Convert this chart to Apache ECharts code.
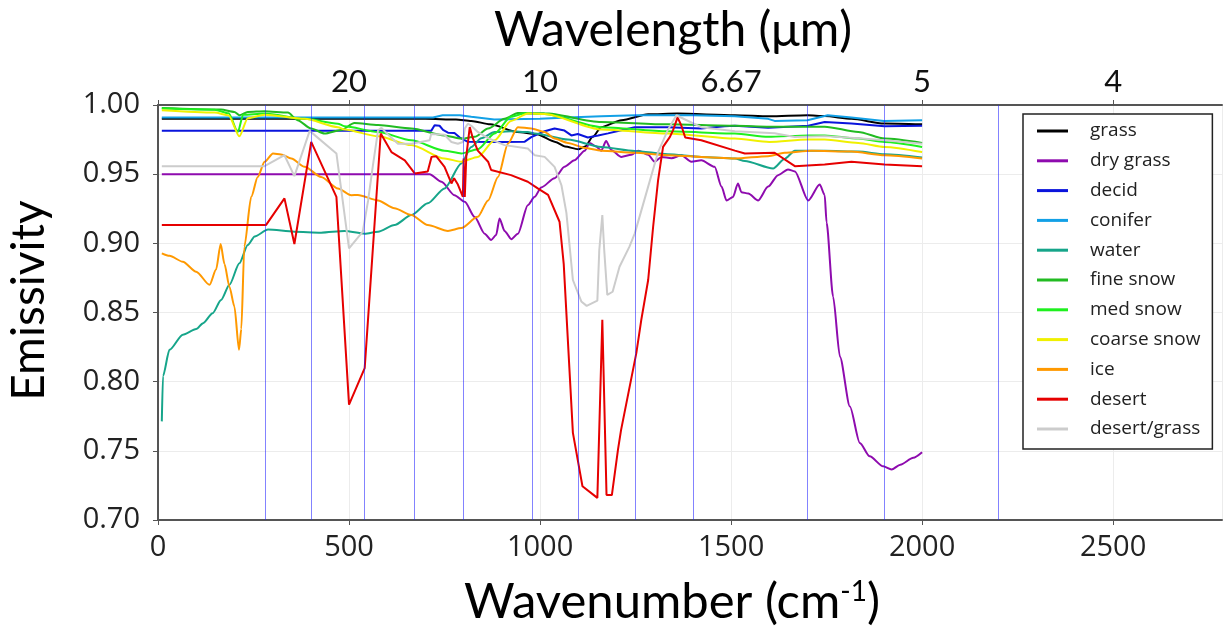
<!DOCTYPE html>
<html>
<head>
<meta charset="utf-8">
<title>Emissivity</title>
<script src="https://cdn.jsdelivr.net/npm/echarts@6/dist/echarts.min.js"></script>
<style>
  html, body { margin: 0; padding: 0; background: #fff; }
  #chart { width: 1224px; height: 627px; }
</style>
</head>
<body>
<div id="chart"></div>
<script>
// wavenumber (cm-1) positions of the vertical band lines
const bandLines = [280, 400, 540, 670, 800, 980, 1100, 1250, 1400, 1700, 1900, 2200];

// top axis: wavelength labels placed at wavenumber ticks
const topTickWn = [500, 1000, 1500, 2000, 2500];
const topTickLabels = ['20', '10', '6.67', '5', '4'];

// emissivity curves, [wavenumber, emissivity]
const grass = [[10,0.990],[700,0.990],[780,0.9895],[820,0.9885],[870,0.986],[940,0.9805],[990,0.979],[1040,0.9733],[1065,0.970],[1100,0.968],[1118,0.970],[1138,0.977],[1160,0.984],[1213,0.989],[1283,0.9933],[1360,0.9938],[1510,0.9926],[1600,0.9918],[1700,0.9926],[1745,0.992],[1815,0.990],[1900,0.9866],[2000,0.986]];

const dryGrass = [[10,0.950],[711,0.950],[742,0.9445],[776,0.9348],[803,0.930],[829,0.919],[855,0.907],[872,0.9024],[885,0.906],[894,0.918],[907,0.909],[925,0.903],[942,0.907],[968,0.9276],[986,0.9336],[1003,0.9404],[1038,0.947],[1064,0.9553],[1090,0.960],[1117,0.967],[1130,0.9726],[1147,0.970],[1160,0.967],[1173,0.974],[1186,0.9675],[1213,0.9625],[1239,0.964],[1257,0.967],[1283,0.964],[1300,0.959],[1318,0.9625],[1344,0.9615],[1370,0.9637],[1396,0.959],[1422,0.960],[1457,0.9553],[1475,0.941],[1488,0.931],[1505,0.9335],[1518,0.9433],[1527,0.937],[1545,0.936],[1571,0.931],[1597,0.941],[1623,0.9493],[1649,0.9534],[1667,0.952],[1702,0.931],[1732,0.9425],[1745,0.935],[1750,0.915],[1767,0.8615],[1785,0.818],[1811,0.782],[1837,0.7557],[1863,0.746],[1898,0.7388],[1920,0.7365],[1943,0.740],[1977,0.745],[2000,0.749]];

const decid = [[10,0.9813],[715,0.9813],[724,0.9853],[737,0.985],[746,0.982],[759,0.980],[776,0.9797],[790,0.9765],[810,0.9735],[900,0.9733],[960,0.9735],[977,0.9768],[1012,0.981],[1038,0.983],[1064,0.9815],[1082,0.978],[1099,0.979],[1125,0.9765],[1152,0.978],[1178,0.9795],[1213,0.9817],[1248,0.984],[1334,0.984],[1422,0.983],[1483,0.9847],[1510,0.985],[1597,0.9836],[1702,0.985],[1745,0.9877],[1815,0.9866],[1902,0.9847],[2000,0.985]];

const conifer = [[10,0.991],[720,0.991],[745,0.9926],[790,0.9926],[820,0.9915],[880,0.9895],[1000,0.990],[1073,0.991],[1160,0.9918],[1250,0.9926],[1400,0.9926],[1510,0.9918],[1597,0.990],[1614,0.9885],[1700,0.989],[1753,0.9926],[1815,0.991],[1900,0.9885],[2000,0.989]];

const water = [[10,0.7713],[13,0.804],[30,0.823],[65,0.834],[100,0.838],[118,0.8423],[143,0.8495],[165,0.859],[187,0.870],[213,0.8856],[235,0.8988],[253,0.905],[288,0.910],[357,0.9084],[427,0.9077],[488,0.9089],[541,0.907],[576,0.9084],[619,0.9132],[663,0.9204],[706,0.9289],[750,0.9397],[794,0.9577],[820,0.9697],[846,0.976],[881,0.9805],[924,0.981],[968,0.9805],[986,0.9794],[1073,0.975],[1160,0.9697],[1248,0.9668],[1334,0.9644],[1422,0.9625],[1510,0.9613],[1536,0.9595],[1610,0.9541],[1640,0.961],[1667,0.967],[1745,0.967],[1833,0.9663],[1902,0.9644],[2000,0.962]];

const fineSnow = [[10,0.9978],[165,0.9967],[200,0.995],[213,0.9926],[235,0.995],[279,0.9955],[340,0.9945],[365,0.989],[401,0.983],[436,0.9794],[480,0.982],[514,0.987],[576,0.9855],[663,0.983],[750,0.978],[794,0.9757],[829,0.977],[864,0.983],[907,0.990],[942,0.9942],[1012,0.994],[1160,0.9877],[1334,0.986],[1510,0.985],[1600,0.9843],[1745,0.9843],[1833,0.9805],[1902,0.9757],[2000,0.9726]];

const medSnow = [[10,0.9974],[148,0.9966],[185,0.994],[209,0.9805],[223,0.993],[279,0.9938],[384,0.990],[471,0.9865],[488,0.9846],[576,0.9805],[663,0.9745],[750,0.967],[794,0.965],[837,0.968],[881,0.9794],[924,0.9915],[960,0.994],[1012,0.9935],[1160,0.984],[1334,0.981],[1510,0.9794],[1597,0.977],[1702,0.978],[1745,0.978],[1833,0.9757],[1902,0.9733],[2000,0.9697]];

const coarseSnow = [[10,0.9962],[148,0.9945],[185,0.9925],[213,0.9774],[235,0.9905],[279,0.993],[384,0.990],[471,0.984],[488,0.9823],[576,0.9774],[663,0.971],[750,0.9613],[794,0.959],[837,0.9625],[881,0.9745],[924,0.9885],[968,0.9938],[1012,0.9935],[1160,0.9823],[1334,0.9794],[1510,0.9757],[1600,0.9733],[1700,0.975],[1745,0.975],[1833,0.9726],[1902,0.9697],[2000,0.966]];

const ice = [[10,0.8928],[30,0.891],[65,0.8867],[100,0.8795],[135,0.870],[152,0.881],[164,0.8995],[174,0.885],[187,0.8687],[200,0.8543],[212,0.823],[218,0.838],[226,0.8976],[244,0.9336],[261,0.948],[279,0.9589],[301,0.965],[322,0.9643],[349,0.9613],[384,0.9553],[427,0.948],[471,0.9397],[506,0.9348],[523,0.935],[576,0.931],[619,0.9253],[663,0.9204],[706,0.9132],[759,0.909],[794,0.911],[837,0.9192],[864,0.931],[890,0.948],[916,0.972],[942,0.984],[977,0.983],[1012,0.9805],[1038,0.9757],[1073,0.9726],[1117,0.969],[1160,0.967],[1248,0.9654],[1334,0.9637],[1422,0.9625],[1510,0.9613],[1597,0.963],[1640,0.9654],[1710,0.967],[1815,0.9663],[1902,0.9637],[2000,0.9613]];

const desert = [[10,0.9133],[283,0.9133],[331,0.9325],[357,0.8995],[401,0.9733],[467,0.9336],[500,0.7834],[541,0.8098],[583,0.9794],[611,0.966],[646,0.960],[672,0.9505],[706,0.952],[716,0.9625],[728,0.963],[750,0.9553],[768,0.9433],[775,0.947],[785,0.9425],[798,0.9336],[800,0.9613],[803,0.9336],[807,0.963],[816,0.984],[824,0.976],[837,0.967],[864,0.959],[872,0.953],[924,0.9493],[968,0.9445],[994,0.9397],[1021,0.935],[1051,0.9156],[1062,0.885],[1086,0.763],[1111,0.7244],[1150,0.716],[1163,0.8447],[1174,0.718],[1188,0.718],[1204,0.7509],[1212,0.765],[1252,0.8206],[1265,0.8447],[1283,0.8735],[1296,0.912],[1309,0.9457],[1322,0.9697],[1340,0.977],[1348,0.9817],[1360,0.991],[1370,0.985],[1380,0.9765],[1422,0.9745],[1510,0.967],[1536,0.965],[1614,0.9655],[1667,0.9558],[1745,0.957],[1815,0.959],[1902,0.957],[2000,0.9558]];

const desertGrass = [[10,0.9558],[279,0.9558],[331,0.9637],[357,0.9486],[397,0.9813],[467,0.965],[500,0.8964],[536,0.9084],[550,0.931],[562,0.9553],[576,0.9817],[585,0.9835],[597,0.980],[628,0.972],[663,0.972],[711,0.9745],[715,0.979],[750,0.9785],[768,0.9733],[785,0.972],[798,0.9733],[803,0.983],[811,0.9865],[820,0.985],[837,0.9805],[864,0.976],[907,0.971],[968,0.9685],[986,0.9637],[1012,0.9625],[1038,0.9553],[1056,0.942],[1069,0.922],[1086,0.8735],[1108,0.858],[1122,0.8548],[1150,0.8586],[1155,0.895],[1163,0.9204],[1168,0.895],[1176,0.8627],[1190,0.865],[1208,0.8831],[1234,0.8976],[1248,0.9072],[1283,0.941],[1309,0.966],[1334,0.9817],[1357,0.9926],[1378,0.9897],[1422,0.984],[1510,0.981],[1614,0.9795],[1667,0.9768],[1745,0.9775],[1833,0.976],[1902,0.9745],[2000,0.972]];

const chart = echarts.init(document.getElementById('chart'));

// 曲线通用设置
function curve(name, data, color, smooth) {
  return {
    name: name,
    type: 'line',
    data: data,
    showSymbol: false,
    symbol: 'none',
    smooth: smooth ? 0.25 : false,
    smoothMonotone: 'x',
    lineStyle: { color: color, width: 2 },
    itemStyle: { color: color },
    emphasis: { disabled: true },
    z: 3
  };
}

const axisColor = '#555';
const xMax = 2785;

const option = {
  animation: false,
  backgroundColor: '#fff',
  grid: { left: 158, right: 2, top: 105, bottom: 107, containLabel: false, outerBoundsMode: 'none' },
  legend: {
    orient: 'vertical',
    left: 1023,
    top: 114,
    padding: [7, 12, 10, 14],
    itemWidth: 31,
    itemHeight: 3,
    itemGap: 9.8,
    icon: 'rect',
    borderColor: '#222',
    borderWidth: 1.5,
    backgroundColor: '#fff',
    textStyle: { fontFamily: 'Open Sans', fontSize: 19, color: '#222', lineHeight: 20, padding: [0, 0, 0, 17] },
    data: ['grass', 'dry grass', 'decid', 'conifer', 'water', 'fine snow', 'med snow', 'coarse snow', 'ice', 'desert', 'desert/grass']
  },
  xAxis: [
    {
      type: 'value', position: 'bottom', min: 0, max: xMax, interval: 500,
      name: 'Wavenumber (cm{sup|-1}{t|)}',
      nameLocation: 'middle', nameGap: 58,
      nameTextStyle: {
        fontFamily: 'Lato', fontSize: 49, color: '#000', padding: [0, 36, 0, 0],
        rich: { sup: { fontFamily: 'Lato', fontSize: 28, verticalAlign: 'top', color: '#000' }, t: { fontFamily: 'Lato', fontSize: 49, color: '#000' } }
      },
      axisLine: { lineStyle: { color: axisColor, width: 2 } },
      axisTick: { show: true, length: 5, lineStyle: { color: axisColor } },
      axisLabel: {
        fontFamily: 'Open Sans', fontSize: 29, color: '#222', margin: 13,
        showMaxLabel: false,
        formatter: function (v) { return String(v); }
      },
      splitLine: { show: true, lineStyle: { color: '#ececec', width: 1 } }
    },
    {
      type: 'value', position: 'top', min: 0, max: xMax, interval: 500,
      name: 'Wavelength (μm)',
      nameLocation: 'middle', nameGap: 50,
      nameTextStyle: { fontFamily: 'Lato', fontSize: 48, color: '#000', padding: [0, 34, 0, 0] },
      axisLine: { lineStyle: { color: axisColor, width: 2 } },
      axisTick: { show: true, length: 5, lineStyle: { color: axisColor } },
      axisLabel: {
        fontFamily: 'Lato', fontSize: 31, color: '#111', margin: 8,
        showMaxLabel: false,
        formatter: function (v) {
          const i = topTickWn.indexOf(v);
          return i >= 0 ? topTickLabels[i] : '';
        }
      },
      splitLine: { show: false }
    }
  ],
  yAxis: {
    type: 'value', min: 0.7, max: 1.0, interval: 0.05,
    name: 'Emissivity',
    nameLocation: 'middle', nameGap: 106,
    nameTextStyle: { fontFamily: 'Lato', fontSize: 46, color: '#000', padding: [0, 0, 0, 24] },
    axisLine: { show: true, lineStyle: { color: axisColor, width: 2 } },
    axisTick: { show: true, length: 5, lineStyle: { color: axisColor } },
    axisLabel: {
      fontFamily: 'Open Sans', fontSize: 29, color: '#222', margin: 18,
      formatter: function (v) { return v.toFixed(2); }
    },
    splitLine: { show: true, lineStyle: { color: '#ececec', width: 1 } }
  },
  series: [
    {
      name: 'bands', type: 'line', data: [], z: 2,
      markLine: {
        silent: true, symbol: ['none', 'none'], label: { show: false },
        lineStyle: { color: 'rgba(30,30,255,0.55)', width: 1, type: 'solid' },
        emphasis: { disabled: true },
        data: bandLines.map(function (v) { return { xAxis: v }; })
      }
    },
    curve('grass', grass, '#000000', true),
    curve('dry grass', dryGrass, '#8e0bae', true),
    curve('decid', decid, '#0a14dc', false),
    curve('conifer', conifer, '#12a0e6', false),
    curve('water', water, '#16a58a', true),
    curve('fine snow', fineSnow, '#22bb22', true),
    curve('med snow', medSnow, '#1ef01e', true),
    curve('coarse snow', coarseSnow, '#f0f000', true),
    curve('ice', ice, '#ff9900', true),
    curve('desert', desert, '#e60000', false),
    curve('desert/grass', desertGrass, '#cccccc', false)
  ]
};

chart.setOption(option);
</script>
</body>
</html>
